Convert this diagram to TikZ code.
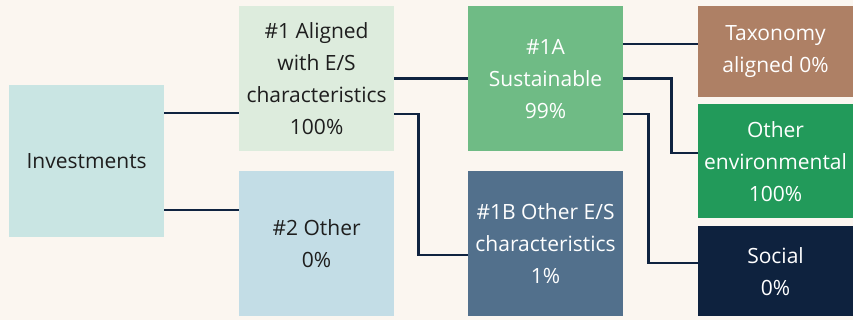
\documentclass[tikz,border=0pt]{standalone}
\usepackage{fontspec}
\setmainfont{Open Sans}
\usepackage{tikz}
\pgfdeclarelayer{bg}
\pgfsetlayers{bg,main}

\definecolor{paper}{HTML}{FBF6F0}
\definecolor{wire}{HTML}{0F2340}
\definecolor{inkdark}{HTML}{1E1E1E}
\definecolor{cInv}{HTML}{C9E5E3}
\definecolor{cAlign}{HTML}{DDECDD}
\definecolor{cOther}{HTML}{C3DDE6}
\definecolor{cSust}{HTML}{6FBB85}
\definecolor{cOtherES}{HTML}{52708C}
\definecolor{cTax}{HTML}{AE8065}
\definecolor{cEnv}{HTML}{229A5A}
\definecolor{cSocial}{HTML}{0E223E}

\tikzset{
    box/.style={rectangle, anchor=north west, inner sep=0pt, align=center,
        minimum width=155pt, font=\fontsize{21}{32}\selectfont},
    lightbox/.style={box, text=inkdark},
    darkbox/.style={box, text=white},
    link/.style={draw=wire, line width=2.5pt}
}

\begin{document}
\begin{tikzpicture}[x=1pt, y=-1pt]
    \node (inv) [lightbox, fill=cInv, minimum height=152pt] at (9,85) {Investments};
    \node (al) [lightbox, fill=cAlign, minimum height=145pt] at (239,6) {\#1 Aligned\\with E/S\\characteristics\\100\%};
    \node (oth) [lightbox, fill=cOther, minimum height=145pt] at (239,171) {\#2 Other\\0\%};
    \node (sa) [darkbox, fill=cSust, minimum height=145pt] at (468,6) {\#1A\\Sustainable\\99\%};
    \node (ob) [darkbox, fill=cOtherES, minimum height=145pt] at (468,171) {\#1B Other E/S\\characteristics\\1\%};
    \node (tax) [darkbox, fill=cTax, minimum height=91pt] at (698,6) {Taxonomy\\aligned 0\%};
    \node (env) [darkbox, fill=cEnv, minimum height=114pt] at (698,104) {Other\\environmental\\100\%};
    \node (soc) [darkbox, fill=cSocial, minimum height=90pt] at (698,226) {Social\\0\%};

    \begin{pgfonlayer}{bg}
        \fill[paper] (0,0) rectangle (853,320);
        \draw[link] ([yshift=48pt]inv.east) -- ([yshift=48pt]inv.east -| al.west);
        \draw[link] ([yshift=-49pt]inv.east) -- ([yshift=-49pt]inv.east -| oth.west);
        \draw[link] (al.east) -- (sa.west);
        \draw[link] ([yshift=-35.5pt]al.east) -- ++(24,0) |- ([yshift=-11.5pt]ob.west);
        \draw[link] ([yshift=34.5pt]sa.east) -- ([yshift=34.5pt]sa.east -| tax.west);
        \draw[link] (sa.east) -- ++(48,0) |- ([yshift=8pt]env.west);
        \draw[link] ([yshift=-35.5pt]sa.east) -- ++(25,0) |- ([yshift=8pt]soc.west);
    \end{pgfonlayer}
\end{tikzpicture}
\end{document}
